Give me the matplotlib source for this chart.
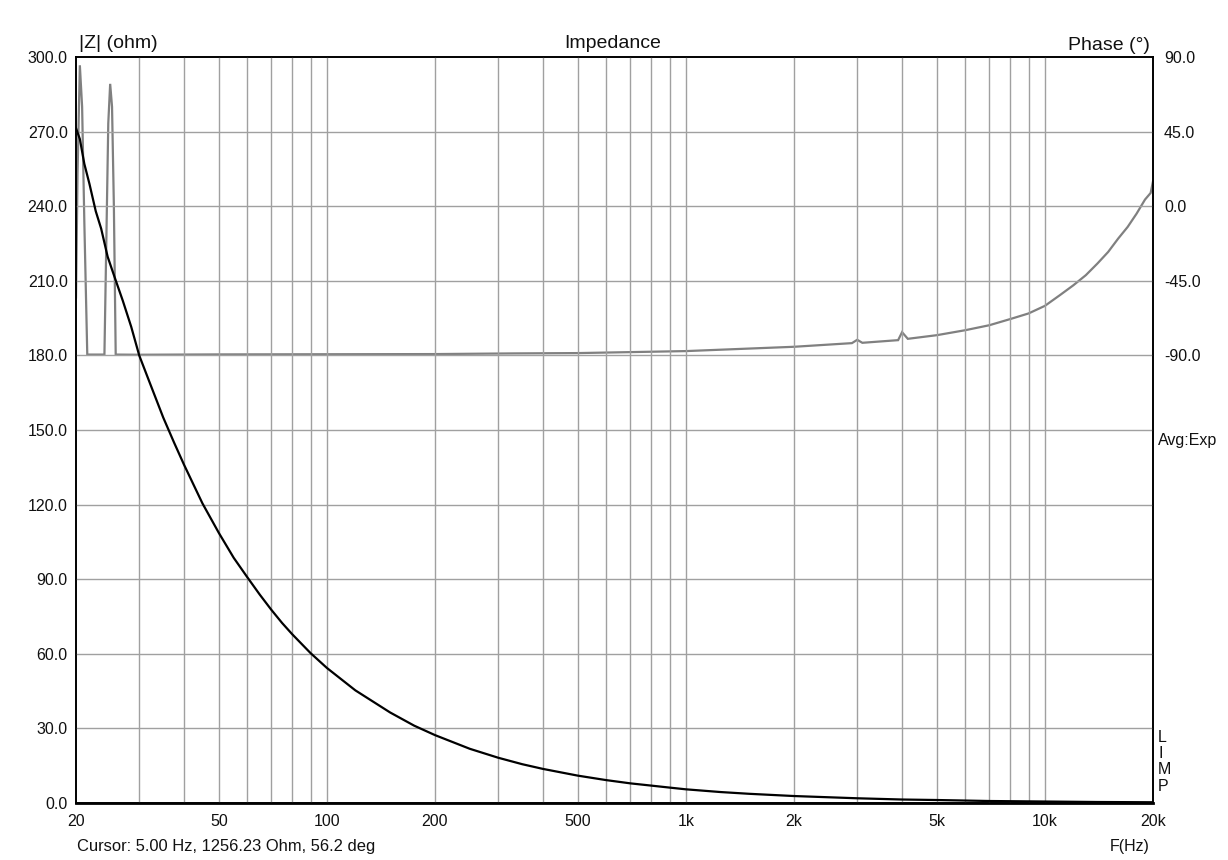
import matplotlib
matplotlib.use("Agg")
import matplotlib.pyplot as plt
from matplotlib.ticker import FixedLocator, NullLocator, NullFormatter

plt.rcParams['font.family'] = ['Liberation Sans', 'DejaVu Sans']

# Impedance magnitude |Z| (ohm)
imp_freq = [20, 20.5, 21.1, 21.8, 22.7, 23.5, 24.5, 25.6, 27, 28.5, 30, 32,
            35, 37.5, 40, 45, 50, 55, 60, 65, 70, 75, 80, 90, 100, 120, 150,
            175, 200, 250, 300, 350, 400, 500, 600, 700, 800, 900, 1000, 1250,
            1500, 2000, 3000, 4000, 5000, 7000, 10000, 14000, 20000]
imp_ohm = [271.4, 267, 257, 249, 238, 231, 219.7, 211.6, 202, 191.5, 180, 169.5,
           155, 145, 136, 120.5, 108.6, 98.6, 90.8, 83.8, 77.7, 72.4, 67.9, 60.3, 54.3, 45.3, 36.4,
           31.1, 27.3, 21.8, 18.2, 15.6, 13.7, 11.0, 9.2, 7.9, 7.0, 6.2, 5.5, 4.4,
           3.7, 2.8, 1.9, 1.4, 1.2, 0.8, 0.6, 0.4, 0.3]

# Phase (degrees)
ph_freq = [20, 20.2, 20.5, 20.8, 21.1, 21.5, 24.0, 24.3, 24.6, 24.9, 25.2, 25.5,
           25.8, 30, 50, 100, 200, 330, 500, 1000, 2000, 2900, 3000, 3100,
           3900, 4000, 4150, 5000, 6000, 7000, 8000, 9000, 10000, 11000, 12000,
           13000, 14000, 15000, 16000, 17000, 18000, 19000, 19700, 20000]
ph_deg = [-55, 20, 85, 60, -10, -89.5, -89.5, -20, 50, 73.8, 60, 0,
          -89.5, -89.6, -89.4, -89.3, -89.2, -88.8, -88.6, -87.4, -84.8, -82.6, -80.6, -82.4,
          -80.8, -76, -80, -77.8, -74.8, -71.8, -68.1, -64.7, -60.1, -53.7, -47.7,
          -41.6, -34.6, -27.6, -19.5, -12.5, -4.5, 4.0, 8.0, 15.0]

x_ticks = [20, 50, 100, 200, 500, 1000, 2000, 5000, 10000, 20000]
x_tick_labels = ['20', '50', '100', '200', '500', '1k', '2k', '5k', '10k', '20k']
x_grid = [30, 40, 50, 60, 70, 80, 90, 100, 200, 300, 400, 500, 600, 700, 800, 900,
          1000, 2000, 3000, 4000, 5000, 6000, 7000, 8000, 9000, 10000]
y_ticks = [0, 30, 60, 90, 120, 150, 180, 210, 240, 270, 300]
phase_ticks = [-90, -45, 0, 45, 90]

fig = plt.figure(figsize=(12.28, 8.6), dpi=100)
ax = fig.add_axes([76 / 1228, 57 / 860, 1077 / 1228, 746 / 860])
ax2 = ax.twinx()
ax.set_zorder(ax2.get_zorder() + 1)
ax.patch.set_visible(False)

txt_col = '#111111'
grid_col = '#a0a0a0'
fs = 11.5
hfs = 14

ax.set_xscale('log')
ax.set_xlim(20, 20000)
ax.set_ylim(0, 300)
ax2.set_ylim(-360, 90)

# grid
for g in x_grid:
    ax.axvline(g, color=grid_col, lw=1.0, zorder=0)
for g in y_ticks[1:-1]:
    ax.axhline(g, color=grid_col, lw=1.0, zorder=0)

ax2.plot(ph_freq, ph_deg, color='#808080', lw=1.6, solid_joinstyle='miter')
ax.plot(imp_freq, imp_ohm, color='black', lw=1.6)

ax.xaxis.set_major_locator(FixedLocator(x_ticks))
ax.set_xticklabels(x_tick_labels)
ax.xaxis.set_minor_locator(NullLocator())
ax.xaxis.set_minor_formatter(NullFormatter())
ax.set_yticks(y_ticks)
ax.set_yticklabels([f'{v:.1f}' for v in y_ticks])
ax2.set_yticks(phase_ticks)
ax2.set_yticklabels([f'{v:.1f}' for v in phase_ticks])

ax.tick_params(axis='both', length=0, labelsize=fs, labelcolor=txt_col)
ax.tick_params(axis='x', pad=8)
ax.tick_params(axis='y', pad=6)
ax2.tick_params(axis='y', length=0, labelsize=fs, labelcolor=txt_col, pad=8)

for a in (ax, ax2):
    for s in a.spines.values():
        s.set_color('black')
        s.set_linewidth(1.2)
ax.spines['bottom'].set_linewidth(2.0)

# header / footer texts
fig.text(79 / 1228, 1 - 44 / 860, '|Z| (ohm)', fontsize=hfs, color=txt_col,
         ha='left', va='center')
fig.text(613 / 1228, 1 - 44 / 860, 'Impedance', fontsize=hfs, color=txt_col,
         ha='center', va='center')
fig.text(1150 / 1228, 1 - 45 / 860, 'Phase (°)', fontsize=hfs, color=txt_col,
         ha='right', va='center')
fig.text(77 / 1228, 1 - 846 / 860, 'Cursor: 5.00 Hz, 1256.23 Ohm, 56.2 deg',
         fontsize=11.9, color=txt_col, ha='left', va='center')
fig.text(1150 / 1228, 1 - 846 / 860, 'F(Hz)', fontsize=fs, color=txt_col,
         ha='right', va='center')
fig.text(1158 / 1228, 1 - 440 / 860, 'Avg:Exp', fontsize=fs, color=txt_col,
         ha='left', va='center')
for i, ch in enumerate('LIMP'):
    fig.text(1158 / 1228, 1 - (737 + i * 16.5) / 860, ch, fontsize=fs, color=txt_col,
             ha='left', va='center')

fig.savefig('out.png', dpi=100)
